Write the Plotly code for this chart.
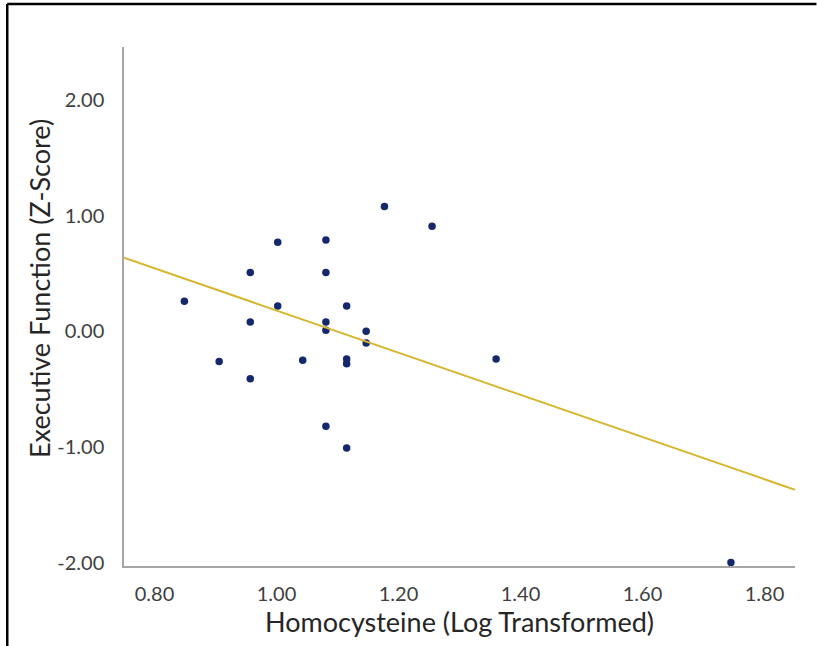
"""Executive function vs homocysteine scatter with linear trend (Plotly)"""

import numpy as np
import plotly.graph_objects as go

# 数据
homocysteine = [0.849, 0.906, 0.957, 0.957, 0.957, 1.002, 1.002, 1.043,
                1.081, 1.081, 1.081, 1.081, 1.081, 1.115, 1.115, 1.115,
                1.115, 1.147, 1.147, 1.177, 1.255, 1.360, 1.745]
exec_z = [0.26, -0.26, 0.51, 0.08, -0.41, 0.77, 0.22, -0.25,
          0.79, 0.51, 0.08, 0.01, -0.82, 0.22, -0.24, -0.28,
          -1.01, 0.00, -0.10, 1.08, 0.91, -0.24, -2.00]

x_ticks = [0.8, 1.0, 1.2, 1.4, 1.6, 1.8]
y_ticks = [-2, -1, 0, 1, 2]
x_range = [0.75, 1.85]
y_range = [-2.03, 2.46]

FONT = "Lato, 'Open Sans', sans-serif"
AXIS_GREY = "#A6A6A6"

# 线性趋势线 (最小二乘)
slope, intercept = np.polyfit(homocysteine, exec_z, 1)
trend_x = np.array(x_range)
trend_y = slope * trend_x + intercept

fig = go.Figure()
fig.add_trace(go.Scatter(
    x=homocysteine,
    y=exec_z,
    mode="markers",
    marker=dict(color="#14286B", size=7.5),
    hoverinfo="x+y",
))
fig.add_trace(go.Scatter(
    x=trend_x,
    y=trend_y,
    mode="lines",
    line=dict(color="#D6B62C", width=2),
    hoverinfo="skip",
))

fig.update_layout(
    width=817,
    height=646,
    margin=dict(l=124, r=22, t=47, b=80),
    paper_bgcolor="white",
    plot_bgcolor="white",
    showlegend=False,
    font=dict(family=FONT, color="#404040"),
    xaxis=dict(
        range=x_range,
        tickvals=x_ticks,
        ticktext=[f"{v:.2f}" for v in x_ticks],
        tickfont=dict(size=20, color="#404040"),
        showgrid=False,
        zeroline=False,
        showline=True,
        linecolor=AXIS_GREY,
        linewidth=1.5,
        ticks="",
        ticklabelstandoff=9,
        title=dict(text="Homocysteine (Log Transformed)",
                   font=dict(size=27, color="#262626"), standoff=2),
    ),
    yaxis=dict(
        range=y_range,
        tickvals=y_ticks,
        ticktext=[f"{v:.2f}" for v in y_ticks],
        tickfont=dict(size=20, color="#404040"),
        showgrid=False,
        zeroline=False,
        showline=True,
        linecolor=AXIS_GREY,
        linewidth=1.5,
        ticks="",
        ticklabelstandoff=14,
    ),
    annotations=[
        dict(text="Executive Function (Z-Score)", textangle=-90,
             xref="paper", yref="paper", x=-0.125, y=0.534,
             xanchor="center", yanchor="middle", showarrow=False,
             font=dict(size=27, color="#262626")),
    ],
    shapes=[
        # 外框 (左、上)
        dict(type="line", xref="paper", yref="paper",
             x0=-0.174, x1=-0.174, y0=-0.16, y1=1.083,
             line=dict(color="black", width=2.5)),
        dict(type="line", xref="paper", yref="paper",
             x0=-0.174, x1=1.032, y0=1.083, y1=1.083,
             line=dict(color="black", width=2.5)),
    ],
)

fig.write_html("out.html", config={"displayModeBar": False},
               post_script="document.body.style.margin='0';")
